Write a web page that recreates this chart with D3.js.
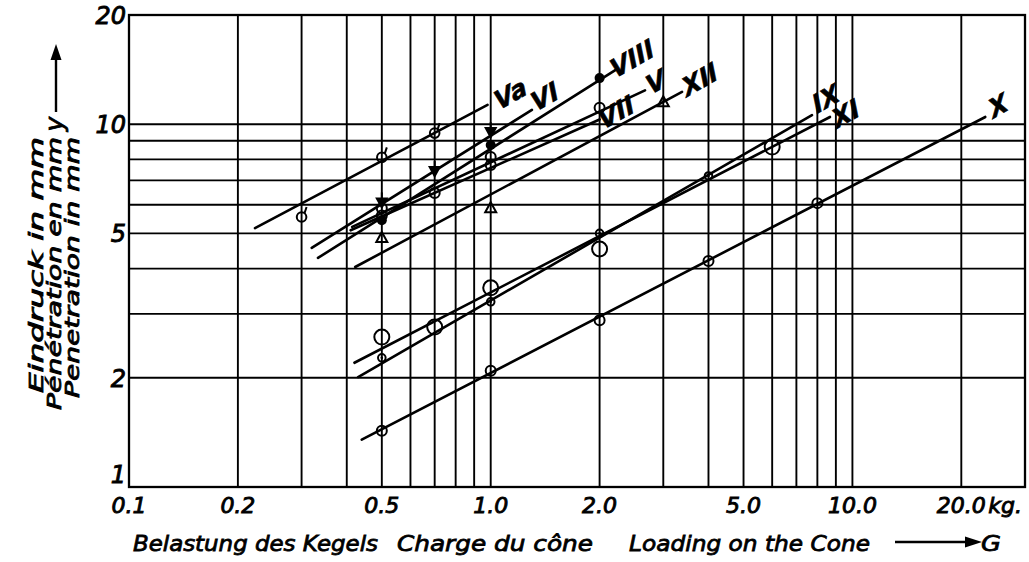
<!DOCTYPE html>
<html>
<head>
<meta charset="utf-8">
<script src="https://cdn.jsdelivr.net/npm/d3@7"></script>
<style>
  html, body { margin: 0; padding: 0; background: #fff; }
  svg { display: block; }
  text { font-family: "DejaVu Sans", sans-serif; font-style: italic; fill: #000; }
</style>
</head>
<body>
<svg id="chart" width="1029" height="562"></svg>
<script>
// ---- grid and tick values (kg load on the cone, mm penetration) ----
const xGridLoads = [0.2, 0.3, 0.4, 0.5, 0.6, 0.7, 0.8, 0.9, 1, 2, 3, 4, 5, 6, 7, 8, 9, 10, 20];
const yGridDepths = [2, 3, 4, 5, 6, 7, 8, 9, 10];
const xTickValues = [0.1, 0.2, 0.5, 1, 2, 5, 10, 20];
const xTickLabels = ["0.1", "0.2", "0.5", "1.0", "2.0", "5.0", "10.0", "20.0"];
const xUnit = "kg.";
const yTickValues = [1, 2, 5, 10, 20];
const yTickLabels = ["1", "2", "5", "10", "20"];

// ---- series ----
const seriesNames = ["Va", "VI", "VIII", "V", "VII", "XII", "IX", "XI", "X"];
const seriesSymbols = ["tick", "triDown", "dot", "circle", "circle", "tri", "bigCircle", "dotCircle", "circle"];
// straight-line fits, [load, depth] at both ends
const lineFrom = [[0.223, 5.17], [0.32, 4.56], [0.333, 4.28], [0.414, 5.21], [0.41, 5.1], [0.422, 4.04], [0.43, 2.01], [0.42, 2.2], [0.44, 1.35]];
const lineTo = [[0.98, 11.3], [1.30, 10.95], [2.21, 14.1], [2.67, 12.4], [2.0, 10.3], [3.38, 12.27], [7.73, 10.6], [8.67, 10.47], [23.3, 10.47]];
// measured points, [load, depth]
const pointsVa = [[0.3, 5.55], [0.5, 8.1], [0.7, 9.45]];
const pointsVI = [[0.5, 6.05], [0.7, 7.38], [1.0, 9.45]];
const pointsVIII = [[0.5, 5.44], [1.0, 8.76], [2.0, 13.4]];
const pointsV = [[0.5, 5.6], [0.7, 6.46], [1.0, 8.12], [2.0, 11.1]];
const pointsVII = [[0.5, 5.87], [1.0, 7.72]];
const pointsXII = [[0.5, 4.86], [1.0, 5.87], [3.0, 11.5]];
const pointsIX = [[0.5, 2.59], [0.7, 2.76], [1.0, 3.54], [2.0, 4.53], [6.0, 8.65]];
const pointsXI = [[0.5, 2.27], [1.0, 3.24], [2.0, 5.0], [4.0, 7.2]];
const pointsX = [[0.5, 1.43], [1.0, 2.09], [2.0, 2.88], [4.0, 4.2], [8.0, 6.06]];
const seriesPoints = [pointsVa, pointsVI, pointsVIII, pointsV, pointsVII, pointsXII, pointsIX, pointsXI, pointsX];

// ---- layout ----
const W = 1029, H = 562;
const plot = { left: 129, right: 1025, top: 15, bottom: 487 };
// label placement relative to the end of each line (px)
const labelShift = [[23, -11], [13, -13], [17, -11], [11, -8], [17, -7], [18, -12], [14, -16], [16, -3], [13, -11]];

const svg = d3.select("#chart");
svg.append("rect").attr("width", W).attr("height", H).attr("fill", "#fff");

const x = d3.scaleLog().domain([0.1, 30]).range([plot.left, plot.right]);
const y = d3.scaleLog().domain([1, 20]).range([plot.bottom, plot.top]);

const grid = svg.append("g").attr("stroke", "#000").attr("stroke-width", 1.9);
grid.selectAll("line.v").data(xGridLoads).join("line")
  .attr("x1", d => x(d)).attr("x2", d => x(d))
  .attr("y1", plot.top).attr("y2", plot.bottom);
grid.selectAll("line.h").data(yGridDepths).join("line")
  .attr("y1", d => y(d)).attr("y2", d => y(d))
  .attr("x1", plot.left).attr("x2", plot.right);

svg.append("rect")
  .attr("x", plot.left).attr("y", plot.top)
  .attr("width", plot.right - plot.left).attr("height", plot.bottom - plot.top)
  .attr("fill", "none").attr("stroke", "#000").attr("stroke-width", 2.3);

// ---- tick labels ----
svg.append("g").selectAll("text").data(xTickValues).join("text")
  .attr("x", d => x(d))
  .attr("y", 513)
  .attr("text-anchor", "middle")
  .attr("font-size", 22)
  .attr("stroke", "#000").attr("stroke-width", 0.9)
  .text((d, i) => xTickLabels[i]);

svg.append("text")
  .attr("x", x(20) + 27).attr("y", 513)
  .attr("font-size", 22)
  .attr("stroke", "#000").attr("stroke-width", 0.9)
  .text(xUnit);

svg.append("g").selectAll("text").data(yTickValues).join("text")
  .attr("x", 126)
  .attr("y", d => d === 1 ? y(d) - 4 : y(d) + 9)
  .attr("text-anchor", "end")
  .attr("font-size", 24)
  .attr("stroke", "#000").attr("stroke-width", 0.9)
  .text((d, i) => yTickLabels[i]);

// ---- series lines, markers and labels ----
const lines = svg.append("g").attr("stroke", "#000").attr("stroke-width", 2.6).attr("stroke-linecap", "round");
seriesNames.forEach((name, i) => {
  lines.append("line")
    .attr("x1", x(lineFrom[i][0])).attr("y1", y(lineFrom[i][1]))
    .attr("x2", x(lineTo[i][0])).attr("y2", y(lineTo[i][1]));
});

function drawMarker(g, type, cx, cy) {
  const s = { stroke: "#000", "stroke-width": 2 };
  const set = (el, attrs) => { Object.entries(attrs).forEach(([k, v]) => el.attr(k, v)); return el; };
  switch (type) {
    case "tick":
      set(g.append("circle").attr("cx", cx).attr("cy", cy).attr("r", 4.8).attr("fill", "none"), s);
      set(g.append("line").attr("x1", cx + 3).attr("y1", cy - 4).attr("x2", cx + 5).attr("y2", cy - 10), s);
      break;
    case "triDown":
      set(g.append("path").attr("d", `M${cx - 5},${cy - 5}L${cx + 5},${cy - 5}L${cx},${cy + 4}Z`).attr("fill", "#000"), s);
      set(g.append("line").attr("x1", cx).attr("y1", cy - 11).attr("x2", cx).attr("y2", cy - 5), s);
      break;
    case "dot":
      g.append("circle").attr("cx", cx).attr("cy", cy).attr("r", 5).attr("fill", "#000");
      break;
    case "circle":
      set(g.append("circle").attr("cx", cx).attr("cy", cy).attr("r", 5).attr("fill", "none"), s);
      break;
    case "tri":
      set(g.append("path").attr("d", `M${cx},${cy - 6}L${cx + 5.5},${cy + 4}L${cx - 5.5},${cy + 4}Z`).attr("fill", "none"), s);
      break;
    case "bigCircle":
      set(g.append("circle").attr("cx", cx).attr("cy", cy).attr("r", 7.5).attr("fill", "none"), s);
      break;
    case "dotCircle":
      set(g.append("circle").attr("cx", cx).attr("cy", cy).attr("r", 3.8).attr("fill", "none"), s);
      g.append("circle").attr("cx", cx).attr("cy", cy).attr("r", 1.3).attr("fill", "#000");
      break;
  }
}

const markers = svg.append("g");
seriesPoints.forEach((pts, i) => {
  pts.forEach(p => drawMarker(markers, seriesSymbols[i], x(p[0]), y(p[1])));
});

const labels = svg.append("g");
seriesNames.forEach((name, i) => {
  const lx = x(lineTo[i][0]) + labelShift[i][0];
  const ly = y(lineTo[i][1]) + labelShift[i][1];
  labels.append("text")
    .attr("transform", `translate(${lx},${ly}) rotate(-30) skewX(-8)`)
    .attr("text-anchor", "middle")
    .attr("dominant-baseline", "central")
    .attr("font-family", "'Liberation Serif', serif")
    .attr("font-weight", "bold")
    .attr("font-style", "normal")
    .attr("font-size", 25)
    .attr("stroke", "#000").attr("stroke-width", 0.6)
    .text(name);
});

// ---- axis titles ----
const xTitle = [
  { text: "Belastung des Kegels", x: 133, len: 245 },
  { text: "Charge du cône", x: 397, len: 196 },
  { text: "Loading on the Cone", x: 629, len: 241 },
  { text: "G", x: 981, len: 20 }
];
svg.append("g").selectAll("text").data(xTitle).join("text")
  .attr("x", d => d.x).attr("y", 551)
  .attr("font-size", 22)
  .attr("textLength", d => d.len).attr("lengthAdjust", "spacingAndGlyphs")
  .attr("stroke", "#000").attr("stroke-width", 0.8)
  .text(d => d.text);

// arrow toward G
svg.append("line").attr("x1", 895).attr("y1", 542).attr("x2", 968).attr("y2", 542)
  .attr("stroke", "#000").attr("stroke-width", 2.4);
svg.append("path").attr("d", "M965,536.5L982,542L965,547.5Z").attr("fill", "#000");

const yTitle = [
  { text: "Eindruck in mm", base: 43, len: 256 },
  { text: "Pénétration en mm", base: 61, len: 273 },
  { text: "Penetration in mm", base: 79, len: 261 }
];
svg.append("g").selectAll("text").data(yTitle).join("text")
  .attr("transform", d => `translate(${d.base},137) rotate(-90)`)
  .attr("text-anchor", "end")
  .attr("font-size", 20)
  .attr("textLength", d => d.len).attr("lengthAdjust", "spacingAndGlyphs")
  .attr("stroke", "#000").attr("stroke-width", 0.8)
  .text(d => d.text);

// y symbol with upward arrow
svg.append("text")
  .attr("transform", "translate(63,124) rotate(-90)")
  .attr("text-anchor", "middle")
  .attr("font-size", 25)
  .attr("stroke", "#000").attr("stroke-width", 0.8)
  .text("y");
svg.append("line").attr("x1", 56).attr("y1", 112).attr("x2", 56).attr("y2", 56)
  .attr("stroke", "#000").attr("stroke-width", 2.4);
svg.append("path").attr("d", "M50.5,60L56,44L61.5,60Z").attr("fill", "#000");
</script>
</body>
</html>
